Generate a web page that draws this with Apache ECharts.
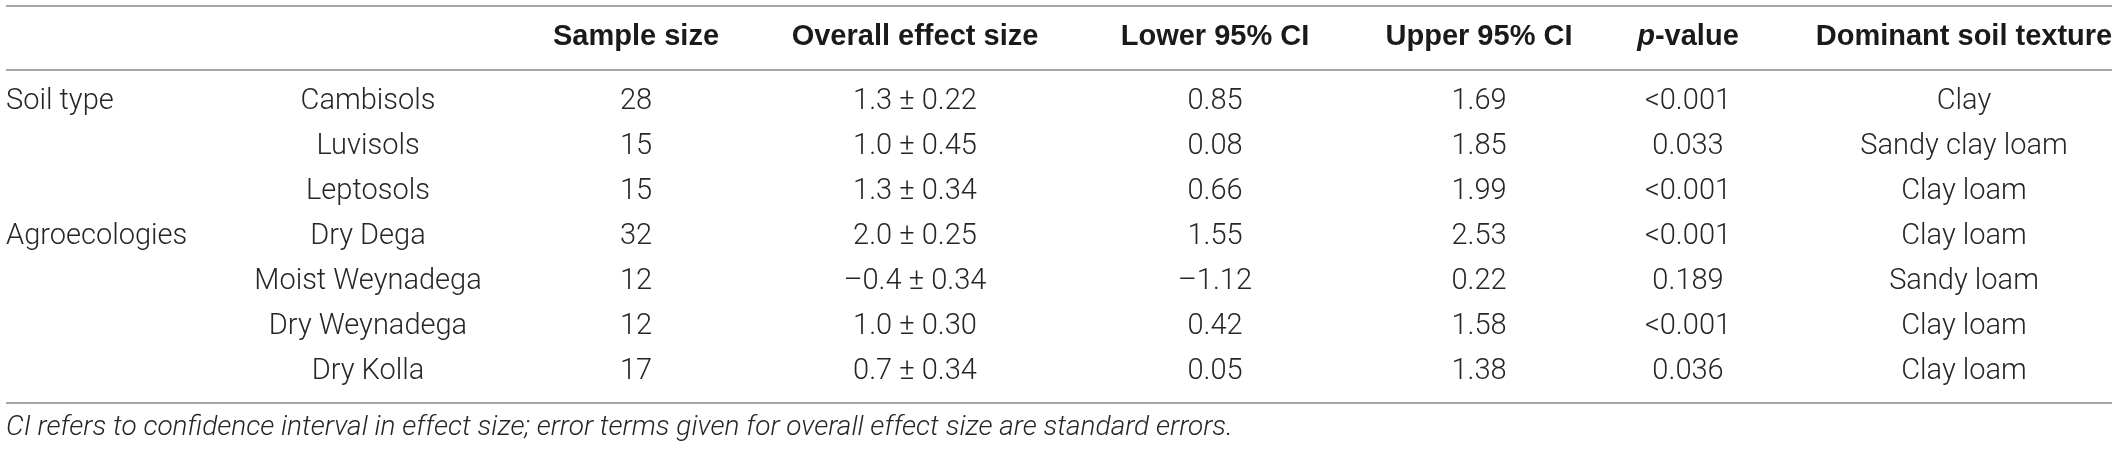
<!DOCTYPE html>
<html>
<head>
<meta charset="utf-8">
<script src="https://cdn.jsdelivr.net/npm/echarts@6/dist/echarts.min.js"></script>
<style>
  html, body { margin: 0; padding: 0; background: #fff; }
  #table { width: 2118px; height: 449px; }
</style>
</head>
<body>
<div id="table"></div>
<script>
// table content
var headers = ['', '', 'Sample size', 'Overall effect size', 'Lower 95% CI', 'Upper 95% CI', '{i|p}-value', 'Dominant soil texture'];
var groups = ['Soil type', '', '', 'Agroecologies', '', '', ''];
var subgroups = ['Cambisols', 'Luvisols', 'Leptosols', 'Dry Dega', 'Moist Weynadega', 'Dry Weynadega', 'Dry Kolla'];
var sampleSizes = [28, 15, 15, 32, 12, 12, 17];
var effects = [1.3, 1.0, 1.3, 2.0, -0.4, 1.0, 0.7];
var effectSE = [0.22, 0.45, 0.34, 0.25, 0.34, 0.30, 0.34];
var lowerCI = [0.85, 0.08, 0.66, 1.55, -1.12, 0.42, 0.05];
var upperCI = [1.69, 1.85, 1.99, 2.53, 0.22, 1.58, 1.38];
var pValues = ['<0.001', '0.033', '<0.001', '<0.001', '0.189', '<0.001', '0.036'];
var textures = ['Clay', 'Sandy clay loam', 'Clay loam', 'Clay loam', 'Sandy loam', 'Clay loam', 'Clay loam'];
var footnote = 'CI refers to confidence interval in effect size; error terms given for overall effect size are standard errors.';

// layout (pixels of the 2118 x 449 page)
var colX = [6, 368, 636, 915, 1215, 1479, 1688, 1964];
var headerY = 37, rowY0 = 102, rowStep = 45, footY = 428;
var rules = [[6, 6, 2112], [6, 70, 2112], [6, 403, 2112]];
var bodySize = 29, headSize = 29;

function num(v, d) {
    var s = Math.abs(v).toFixed(d);
    return v < 0 ? '\u2013' + s : s;
}

var cells = [];
headers.forEach(function (h, c) {
    if (h) cells.push({ x: colX[c], y: headerY, text: h, bold: true, align: c === 0 ? 'left' : 'center' });
});
subgroups.forEach(function (s, r) {
    var y = rowY0 + r * rowStep;
    var row = [
        groups[r],
        s,
        String(sampleSizes[r]),
        num(effects[r], 1) + ' \u00b1 ' + effectSE[r].toFixed(2),
        num(lowerCI[r], 2),
        num(upperCI[r], 2),
        pValues[r],
        textures[r]
    ];
    row.forEach(function (t, c) {
        if (t) cells.push({ x: colX[c], y: y, text: t, bold: false, align: c === 0 ? 'left' : 'center' });
    });
});
cells.push({ x: 6, y: footY, text: footnote, italic: true, align: 'left' });

var dom = document.getElementById('table');
var myChart = echarts.init(dom);
var option = {
    backgroundColor: '#ffffff',
    animation: false,
    grid: { left: 0, right: 0, top: 0, bottom: 0 },
    xAxis: { type: 'value', min: 0, max: 2118, show: false },
    yAxis: { type: 'value', min: 0, max: 449, inverse: true, show: false },
    series: [
        {
            type: 'custom',
            data: rules,
            renderItem: function (params, api) {
                var a = api.coord([api.value(0), api.value(1)]);
                var b = api.coord([api.value(2), api.value(1)]);
                return {
                    type: 'line',
                    shape: { x1: a[0], y1: a[1], x2: b[0], y2: b[1] },
                    style: { stroke: '#a6a6a6', lineWidth: 2 }
                };
            }
        },
        {
            type: 'custom',
            data: cells.map(function (c) { return [c.x, c.y]; }),
            renderItem: function (params, api) {
                var cell = cells[params.dataIndex];
                var p = api.coord([api.value(0), api.value(1)]);
                return {
                    type: 'text',
                    x: p[0],
                    y: p[1],
                    style: {
                        text: cell.text,
                        align: cell.align,
                        verticalAlign: 'middle',
                        fill: cell.bold ? '#1a1a1a' : '#262626',
                        fontFamily: cell.bold ? 'Liberation Sans' : 'Roboto',
                        fontWeight: cell.bold ? 'bold' : 300,
                        fontStyle: cell.italic ? 'italic' : 'normal',
                        fontSize: cell.bold ? headSize : (cell.italic ? 28 : bodySize),
                        rich: {
                            i: { fontStyle: 'italic', fontWeight: 'bold', fontFamily: 'Liberation Sans', fontSize: headSize, fill: '#1a1a1a' }
                        }
                    }
                };
            }
        }
    ]
};
myChart.setOption(option, true);
</script>
</body>
</html>
